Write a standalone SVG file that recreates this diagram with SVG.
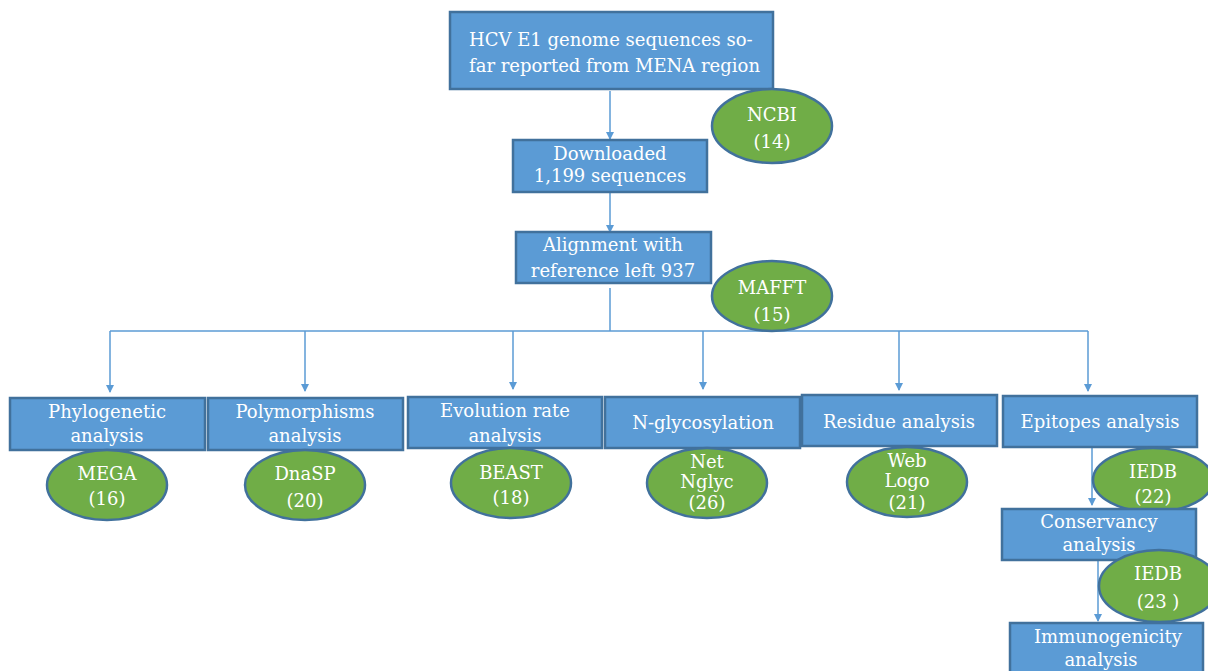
<svg xmlns="http://www.w3.org/2000/svg" width="1208" height="671" viewBox="0 0 1208 671">
<defs>
<marker id="ah" markerWidth="8" markerHeight="8" refX="7" refY="4" orient="auto" markerUnits="userSpaceOnUse">
<path d="M0,0 L8,4 L0,8 Z" fill="#5B9BD5"/>
</marker>
<style>
.box{fill:#5B9BD5;stroke:#41719C;stroke-width:2.5}
.ell{fill:#70AD47;stroke:#41719C;stroke-width:2.5}
.t{font-family:"DejaVu Serif","Liberation Serif",serif;font-size:18px;fill:#FFFFFF;text-anchor:middle}
.c{stroke:#5B9BD5;stroke-width:1.5;fill:none}
.ca{stroke:#5B9BD5;stroke-width:1.5;fill:none;marker-end:url(#ah)}
</style>
</defs>
<rect width="1208" height="671" fill="#FFFFFF"/>
<g id="connectors">
<line class="ca" x1="610" y1="91" x2="610" y2="139"/>
<line class="ca" x1="610" y1="193" x2="610" y2="232"/>
<line class="c" x1="610" y1="288" x2="610" y2="331"/>
<line class="c" x1="110" y1="331" x2="1088" y2="331"/>
<line class="ca" x1="110" y1="331" x2="110" y2="392"/>
<line class="ca" x1="305" y1="331" x2="305" y2="391"/>
<line class="ca" x1="513" y1="331" x2="513" y2="389"/>
<line class="ca" x1="703" y1="331" x2="703" y2="389"/>
<line class="ca" x1="899" y1="331" x2="899" y2="390"/>
<line class="ca" x1="1088" y1="331" x2="1088" y2="391"/>
<line class="ca" x1="1092" y1="448" x2="1092" y2="505"/>
<line class="ca" x1="1098" y1="561" x2="1098" y2="621"/>
</g>
<g id="n-hcv">
<rect class="box" x="450" y="12" width="323" height="77"/>
<text class="t" x="469" y="46" style="text-anchor:start">HCV E1 genome sequences so-</text>
<text class="t" x="469" y="72" style="text-anchor:start">far reported from MENA region</text>
</g>
<g id="n-ncbi">
<ellipse class="ell" cx="772" cy="126" rx="60" ry="37"/>
<text class="t" x="772" y="121">NCBI</text>
<text class="t" x="772" y="148">(14)</text>
</g>
<g id="n-downloaded">
<rect class="box" x="513" y="140" width="194" height="52"/>
<text class="t" x="610" y="160">Downloaded</text>
<text class="t" x="610" y="182">1,199 sequences</text>
</g>
<g id="n-alignment">
<rect class="box" x="516" y="232" width="195" height="51"/>
<text class="t" x="613" y="251">Alignment with</text>
<text class="t" x="613" y="277">reference left 937</text>
</g>
<g id="n-mafft">
<ellipse class="ell" cx="772" cy="296" rx="60" ry="35"/>
<text class="t" x="772" y="294">MAFFT</text>
<text class="t" x="772" y="321">(15)</text>
</g>
<g id="n-phylo">
<rect class="box" x="10" y="398" width="195" height="52"/>
<text class="t" x="107" y="418">Phylogenetic</text>
<text class="t" x="107" y="442">analysis</text>
</g>
<g id="n-mega">
<ellipse class="ell" cx="107" cy="485" rx="60" ry="35"/>
<text class="t" x="107" y="480">MEGA</text>
<text class="t" x="107" y="505">(16)</text>
</g>
<g id="n-poly">
<rect class="box" x="208" y="398" width="195" height="52"/>
<text class="t" x="305" y="418">Polymorphisms</text>
<text class="t" x="305" y="442">analysis</text>
</g>
<g id="n-dnasp">
<ellipse class="ell" cx="305" cy="485" rx="60" ry="35"/>
<text class="t" x="305" y="480">DnaSP</text>
<text class="t" x="305" y="507">(20)</text>
</g>
<g id="n-evol">
<rect class="box" x="408" y="397" width="194" height="51"/>
<text class="t" x="505" y="417">Evolution rate</text>
<text class="t" x="505" y="442">analysis</text>
</g>
<g id="n-beast">
<ellipse class="ell" cx="511" cy="483" rx="60" ry="35"/>
<text class="t" x="511" y="479">BEAST</text>
<text class="t" x="511" y="504">(18)</text>
</g>
<g id="n-nglyc">
<rect class="box" x="605" y="397" width="195" height="51"/>
<text class="t" x="703" y="429">N-glycosylation</text>
</g>
<g id="n-netnglyc">
<ellipse class="ell" cx="707" cy="483" rx="60" ry="35"/>
<text class="t" x="707" y="468">Net</text>
<text class="t" x="707" y="488">Nglyc</text>
<text class="t" x="707" y="509">(26)</text>
</g>
<g id="n-residue">
<rect class="box" x="802" y="395" width="195" height="51"/>
<text class="t" x="899" y="428">Residue analysis</text>
</g>
<g id="n-weblogo">
<ellipse class="ell" cx="907" cy="482" rx="60" ry="35"/>
<text class="t" x="907" y="467">Web</text>
<text class="t" x="907" y="487">Logo</text>
<text class="t" x="907" y="509">(21)</text>
</g>
<g id="n-epitopes">
<rect class="box" x="1003" y="396" width="194" height="51"/>
<text class="t" x="1100" y="428">Epitopes analysis</text>
</g>
<g id="n-iedb22">
<ellipse class="ell" cx="1153" cy="480" rx="60" ry="32"/>
<text class="t" x="1153" y="478">IEDB</text>
<text class="t" x="1153" y="503">(22)</text>
</g>
<g id="n-conserv">
<rect class="box" x="1002" y="509" width="194" height="51"/>
<text class="t" x="1099" y="528">Conservancy</text>
<text class="t" x="1099" y="551">analysis</text>
</g>
<g id="n-iedb23">
<ellipse class="ell" cx="1159" cy="586" rx="60" ry="36"/>
<text class="t" x="1158" y="580">IEDB</text>
<text class="t" x="1158" y="608">(23 )</text>
</g>
<g id="n-immuno">
<rect class="box" x="1010" y="623" width="193" height="60"/>
<text class="t" x="1108" y="643">Immunogenicity</text>
<text class="t" x="1101" y="666">analysis</text>
</g>
</svg>
